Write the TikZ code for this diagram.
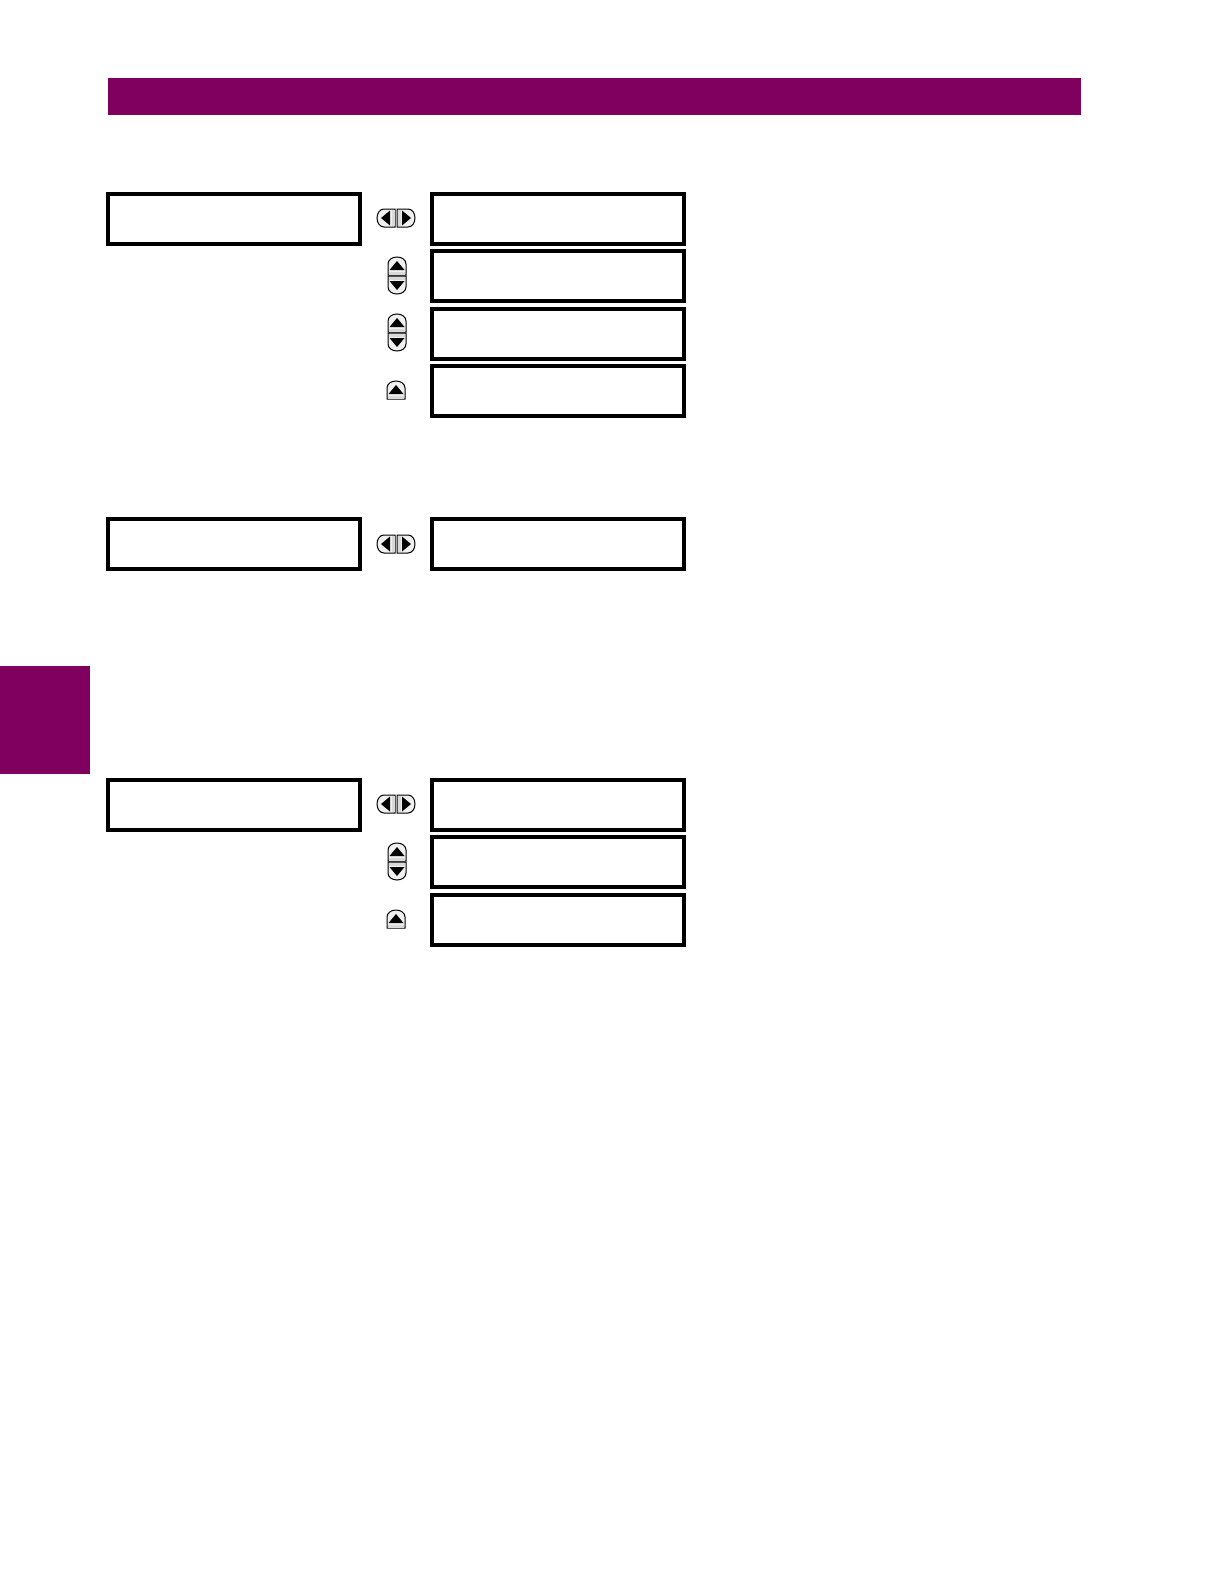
\documentclass[tikz,border=0pt]{standalone}
\usepackage{xcolor}
\usepackage{tikz}
\usetikzlibrary{positioning}
\definecolor{bandcolor}{RGB}{128,0,96}

\begin{document}
\begin{tikzpicture}[
    x=0.5pt,y=-0.5pt,
    band/.style={rectangle,fill=bandcolor,anchor=north west,inner sep=0pt,outer sep=0pt},
    lcd/.style={rectangle,draw,line width=2pt,minimum width=126pt,minimum height=25pt,inner sep=0pt},
    keyarrow/.pic={
      \draw[line width=0.5pt,fill=black!6] (-9,9)--(-9,-2) .. controls (-9,-6) and (-5,-9) .. (0,-9) .. controls (5,-9) and (9,-6) .. (9,-2)--(9,9)--cycle;
      \fill[black!15] (-8,5.5) rectangle (8,8.5);
      \fill[black] (-7.5,4)--(0,-5)--(7.5,4)--cycle;
    }
    ]

    \useasboundingbox (0,0) rectangle (1224,1584);

    \node[band,minimum width=486.5pt,minimum height=18.5pt] (header) at (108,78) {};
    \node[band,minimum width=45pt,minimum height=54pt] (tab) at (0,666) {};

    % first group
    \node[lcd] (menua) at (234,219) {};
    \node[lcd] (valuea) at (558,219) {};
    \node[lcd,below=1.7pt of valuea] (valueb) {};
    \node[lcd,below=1.7pt of valueb] (valuec) {};
    \node[lcd,below=1.7pt of valuec] (valued) {};

    % second group
    \node[lcd] (menub) at (234,544) {};
    \node[lcd] (valuee) at (558,544) {};

    % third group
    \node[lcd] (menuc) at (234,805) {};
    \node[lcd] (valuef) at (558,805) {};
    \node[lcd,below=1.7pt of valuef] (valueg) {};
    \node[lcd,below=1.7pt of valueg] (valueh) {};

    % keys
    \foreach \ky in {218,544,804} {
      \pic[rotate=90] at (386,\ky) {keyarrow};
      \pic[rotate=-90] at (406,\ky) {keyarrow};
    }
    \foreach \ky in {266,323,852} {
      \pic at (397,\ky) {keyarrow};
      \pic[rotate=180] at (397,\ky+19) {keyarrow};
    }
    \foreach \ky in {390,919} {
      \pic at (396,\ky) {keyarrow};
    }

  \end{tikzpicture}
\end{document}
